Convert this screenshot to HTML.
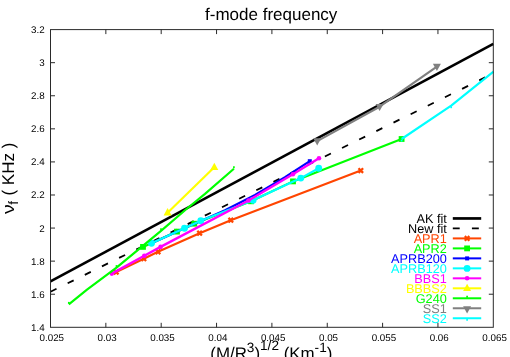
<!DOCTYPE html>
<html><head><meta charset="utf-8"><title>f-mode frequency</title>
<style>
html,body{margin:0;padding:0;background:#fff;}
body{width:510px;height:357px;overflow:hidden;}
svg{display:block;}
text{font-family:"Liberation Sans",sans-serif;text-rendering:geometricPrecision;}
svg{will-change:transform;}
</style></head><body>
<svg width="510" height="357" viewBox="0 0 510 357">
<rect x="0" y="0" width="510" height="357" fill="#fff"/>
<text x="271.2" y="20.1" font-size="17.0" text-anchor="middle" fill="#000">f-mode frequency</text>
<g transform="translate(13.9,213.9) rotate(-90)" fill="#000"><text transform="scale(1.13,1)" x="0" y="0" font-size="17">ν</text><text x="9.2" y="4" font-size="13.6">f</text><text x="13.6" y="0" font-size="17" xml:space="preserve" style="white-space:pre"> ( KHz )</text></g>
<text x="271.3" y="358.8" font-size="16.9" text-anchor="middle" fill="#000">(M/R<tspan font-size="13.6" dy="-7.2">3</tspan><tspan dy="7.2">)</tspan><tspan font-size="13.6" dy="-8.7">1/2</tspan><tspan dy="8.7"> (Km</tspan><tspan font-size="13.6" dy="-7.2">-1</tspan><tspan dy="7.2">)</tspan></text>
<text x="44.6" y="33.10" font-size="9.8" text-anchor="end" fill="#000">3.2</text>
<text x="44.6" y="66.18" font-size="9.8" text-anchor="end" fill="#000">3</text>
<text x="44.6" y="99.26" font-size="9.8" text-anchor="end" fill="#000">2.8</text>
<text x="44.6" y="132.33" font-size="9.8" text-anchor="end" fill="#000">2.6</text>
<text x="44.6" y="165.41" font-size="9.8" text-anchor="end" fill="#000">2.4</text>
<text x="44.6" y="198.49" font-size="9.8" text-anchor="end" fill="#000">2.2</text>
<text x="44.6" y="231.57" font-size="9.8" text-anchor="end" fill="#000">2</text>
<text x="44.6" y="264.64" font-size="9.8" text-anchor="end" fill="#000">1.8</text>
<text x="44.6" y="297.72" font-size="9.8" text-anchor="end" fill="#000">1.6</text>
<text x="44.6" y="330.80" font-size="9.8" text-anchor="end" fill="#000">1.4</text>
<text x="51.80" y="340.5" font-size="9.8" text-anchor="middle" fill="#000">0.025</text>
<text x="107.15" y="340.5" font-size="9.8" text-anchor="middle" fill="#000">0.03</text>
<text x="162.50" y="340.5" font-size="9.8" text-anchor="middle" fill="#000">0.035</text>
<text x="217.85" y="340.5" font-size="9.8" text-anchor="middle" fill="#000">0.04</text>
<text x="273.20" y="340.5" font-size="9.8" text-anchor="middle" fill="#000">0.045</text>
<text x="328.55" y="340.5" font-size="9.8" text-anchor="middle" fill="#000">0.05</text>
<text x="383.90" y="340.5" font-size="9.8" text-anchor="middle" fill="#000">0.055</text>
<text x="439.25" y="340.5" font-size="9.8" text-anchor="middle" fill="#000">0.06</text>
<text x="494.60" y="340.5" font-size="9.8" text-anchor="middle" fill="#000">0.065</text>
<g fill="none" stroke-linejoin="round" stroke-linecap="butt">
<path d="M50.5,281.40 L493.3,43.91" stroke="#000" stroke-width="2.6"/>
<path d="M50.5,291.74 L493.3,73.43" stroke="#000" stroke-width="1.8" stroke-dasharray="6.7 12.42"/>
<path d="M116.2,272.1 L143.8,258.7 L158.0,251.8 L199.6,233.2 L230.8,220.2 L360.8,170.6" stroke="#ff4500" stroke-width="2.15"/>
<path d="M113.9,269.8 L118.5,274.4 M113.9,274.4 L118.5,269.8" stroke="#ff4500" stroke-width="2.3" stroke-linecap="butt"/>
<path d="M141.5,256.4 L146.1,261.0 M141.5,261.0 L146.1,256.4" stroke="#ff4500" stroke-width="2.3" stroke-linecap="butt"/>
<path d="M155.7,249.5 L160.3,254.1 M155.7,254.1 L160.3,249.5" stroke="#ff4500" stroke-width="2.3" stroke-linecap="butt"/>
<path d="M197.3,230.9 L201.9,235.5 M197.3,235.5 L201.9,230.9" stroke="#ff4500" stroke-width="2.3" stroke-linecap="butt"/>
<path d="M228.5,217.9 L233.1,222.5 M228.5,222.5 L233.1,217.9" stroke="#ff4500" stroke-width="2.3" stroke-linecap="butt"/>
<path d="M358.5,168.3 L363.1,172.9 M358.5,172.9 L363.1,168.3" stroke="#ff4500" stroke-width="2.3" stroke-linecap="butt"/>
<path d="M143.0,246.9 L177.0,231.6 L194.3,223.7 L251.0,201.3 L293.0,181.4 L401.6,139.0" stroke="#00ff00" stroke-width="2.15"/>
<rect x="140.1" y="244.0" width="5.8" height="5.8" fill="#00ff00" stroke="none"/>
<rect x="174.1" y="228.7" width="5.8" height="5.8" fill="#00ff00" stroke="none"/>
<rect x="191.4" y="220.8" width="5.8" height="5.8" fill="#00ff00" stroke="none"/>
<rect x="248.1" y="198.4" width="5.8" height="5.8" fill="#00ff00" stroke="none"/>
<rect x="290.1" y="178.5" width="5.8" height="5.8" fill="#00ff00" stroke="none"/>
<rect x="398.7" y="136.1" width="5.8" height="5.8" fill="#00ff00" stroke="none"/>
<path d="M151.5,243.3 L184.5,228.3 L200.7,220.9 L225.0,210.2 L255.0,195.0 L285.0,177.1 L309.8,161.2" stroke="#0000ff" stroke-width="2.15"/>
<rect x="307.8" y="159.2" width="4.0" height="4.0" fill="#0000ff" stroke="none"/>
<path d="M151.5,243.3 L184.5,228.3 L200.8,220.8 L253.1,200.2 L300.8,178.1 L318.7,168.2" stroke="#00ffff" stroke-width="2.15"/>
<circle cx="151.5" cy="243.3" r="3.45" fill="#00ffff" stroke="none"/>
<circle cx="184.5" cy="228.3" r="3.45" fill="#00ffff" stroke="none"/>
<circle cx="200.8" cy="220.8" r="3.45" fill="#00ffff" stroke="none"/>
<circle cx="253.1" cy="200.2" r="3.45" fill="#00ffff" stroke="none"/>
<circle cx="300.8" cy="178.1" r="3.45" fill="#00ffff" stroke="none"/>
<circle cx="318.7" cy="168.2" r="3.45" fill="#00ffff" stroke="none"/>
<path d="M111.8,273.6 L144.3,255.7 L160.6,246.9 L248.5,200.5 L292.9,174.2 L319.0,158.2" stroke="#ff00ff" stroke-width="2.4"/>
<circle cx="111.8" cy="273.6" r="2.3" fill="#ff00ff" stroke="none"/>
<circle cx="144.3" cy="255.7" r="2.3" fill="#ff00ff" stroke="none"/>
<circle cx="160.6" cy="246.9" r="2.3" fill="#ff00ff" stroke="none"/>
<circle cx="248.5" cy="200.5" r="2.3" fill="#ff00ff" stroke="none"/>
<circle cx="292.9" cy="174.2" r="2.3" fill="#ff00ff" stroke="none"/>
<circle cx="319.0" cy="158.2" r="2.3" fill="#ff00ff" stroke="none"/>
<path d="M167.6,212.7 L214.3,167.3" stroke="#ffff00" stroke-width="2.15"/>
<path d="M167.6,208.1 L171.6,215.5 L163.6,215.5 Z" fill="#ffff00" stroke="none"/>
<path d="M214.3,162.7 L218.3,170.1 L210.3,170.1 Z" fill="#ffff00" stroke="none"/>
<path d="M68.8,304.4 L87.0,289.7 L116.5,267.6 L161.0,230.8 L186.2,209.3 L205.0,193.9 L233.9,168.8" stroke="#00ff00" stroke-width="2.15"/>
<path d="M68.8,303.8 L68.8,301.9" stroke="#00ff00" stroke-width="1.7"/>
<path d="M116.5,267.0 L116.5,265.1" stroke="#00ff00" stroke-width="1.7"/>
<path d="M161.0,230.2 L161.0,228.3" stroke="#00ff00" stroke-width="1.7"/>
<path d="M233.9,168.2 L233.9,166.3" stroke="#00ff00" stroke-width="1.7"/>
<path d="M317.2,141.1 L379.6,106.7 L436.9,66.6" stroke="#808080" stroke-width="2.15"/>
<path d="M317.2,145.5 L321.2,138.3 L313.2,138.3 Z" fill="#808080" stroke="none"/>
<path d="M379.6,111.1 L383.6,103.9 L375.6,103.9 Z" fill="#808080" stroke="none"/>
<path d="M436.9,71.0 L440.9,63.8 L432.9,63.8 Z" fill="#808080" stroke="none"/>
<path d="M401.6,139.0 L451.2,105.7 L493.5,71.6" stroke="#00ffff" stroke-width="2.15"/>
<path d="M401.6,139.6 L401.6,141.5" stroke="#00ffff" stroke-width="1.7"/>
<path d="M451.2,106.3 L451.2,108.2" stroke="#00ffff" stroke-width="1.7"/>
</g>
<g fill="none">
<text x="446.8" y="222.95" font-size="12.7" text-anchor="end" fill="#000" stroke="none">AK fit</text>
<path d="M452.8,218.45 L481.2,218.45" stroke="#000" stroke-width="2.7"/>
<text x="446.8" y="232.93" font-size="12.7" text-anchor="end" fill="#000" stroke="none">New fit</text>
<path d="M452.8,228.43 L481.2,228.43" stroke="#000" stroke-width="1.8" stroke-dasharray="6.9 12.22"/>
<text x="446.8" y="242.91" font-size="12.7" text-anchor="end" fill="#ff4500" stroke="none">APR1</text>
<path d="M452.8,238.41 L481.2,238.41" stroke="#ff4500" stroke-width="2"/>
<path d="M464.8,236.1 L469.4,240.7 M464.8,240.7 L469.4,236.1" stroke="#ff4500" stroke-width="2.3" stroke-linecap="butt"/>
<text x="446.8" y="252.89" font-size="12.7" text-anchor="end" fill="#00ff00" stroke="none">APR2</text>
<path d="M452.8,248.39 L481.2,248.39" stroke="#00ff00" stroke-width="2"/>
<rect x="464.2" y="245.5" width="5.8" height="5.8" fill="#00ff00" stroke="none"/>
<text x="446.8" y="262.87" font-size="12.7" text-anchor="end" fill="#0000ff" stroke="none">APRB200</text>
<path d="M452.8,258.37 L481.2,258.37" stroke="#0000ff" stroke-width="2"/>
<rect x="465.1" y="256.4" width="4.0" height="4.0" fill="#0000ff" stroke="none"/>
<text x="446.8" y="272.85" font-size="12.7" text-anchor="end" fill="#00ffff" stroke="none">APRB120</text>
<path d="M452.8,268.35 L481.2,268.35" stroke="#00ffff" stroke-width="2"/>
<circle cx="467.1" cy="268.4" r="3.45" fill="#00ffff" stroke="none"/>
<text x="446.8" y="282.83" font-size="12.7" text-anchor="end" fill="#ff00ff" stroke="none">BBS1</text>
<path d="M452.8,278.33 L481.2,278.33" stroke="#ff00ff" stroke-width="2"/>
<circle cx="467.1" cy="278.3" r="2.3" fill="#ff00ff" stroke="none"/>
<text x="446.8" y="292.81" font-size="12.7" text-anchor="end" fill="#ffff00" stroke="none">BBBS2</text>
<path d="M452.8,288.31 L481.2,288.31" stroke="#ffff00" stroke-width="2"/>
<path d="M467.1,283.7 L471.1,291.1 L463.1,291.1 Z" fill="#ffff00" stroke="none"/>
<text x="446.8" y="302.79" font-size="12.7" text-anchor="end" fill="#00ff00" stroke="none">G240</text>
<path d="M452.8,298.29 L481.2,298.29" stroke="#00ff00" stroke-width="2"/>
<path d="M467.1,297.7 L467.1,295.8" stroke="#00ff00" stroke-width="1.7"/>
<text x="446.8" y="312.77" font-size="12.7" text-anchor="end" fill="#808080" stroke="none">SS1</text>
<path d="M452.8,308.27 L481.2,308.27" stroke="#808080" stroke-width="2"/>
<path d="M467.1,313.5 L471.1,306.3 L463.1,306.3 Z" fill="#808080" stroke="none"/>
<text x="446.8" y="322.75" font-size="12.7" text-anchor="end" fill="#00ffff" stroke="none">SS2</text>
<path d="M452.8,318.25 L481.2,318.25" stroke="#00ffff" stroke-width="2"/>
<path d="M467.1,318.9 L467.1,320.8" stroke="#00ffff" stroke-width="1.7"/>
</g>
<g stroke="#2a2a2a" stroke-width="1" fill="none" shape-rendering="auto">
<rect x="50.5" y="29.6" width="442.8" height="297.70"/>
<path d="M50.5,62.68 h4.5 M493.3,62.68 h-4.5 M50.5,95.76 h4.5 M493.3,95.76 h-4.5 M50.5,128.83 h4.5 M493.3,128.83 h-4.5 M50.5,161.91 h4.5 M493.3,161.91 h-4.5 M50.5,194.99 h4.5 M493.3,194.99 h-4.5 M50.5,228.07 h4.5 M493.3,228.07 h-4.5 M50.5,261.14 h4.5 M493.3,261.14 h-4.5 M50.5,294.22 h4.5 M493.3,294.22 h-4.5 M105.85,327.3 v-4.5 M105.85,29.6 v4.5 M161.20,327.3 v-4.5 M161.20,29.6 v4.5 M216.55,327.3 v-4.5 M216.55,29.6 v4.5 M271.90,327.3 v-4.5 M271.90,29.6 v4.5 M327.25,327.3 v-4.5 M327.25,29.6 v4.5 M382.60,327.3 v-4.5 M382.60,29.6 v4.5 M437.95,327.3 v-4.5 M437.95,29.6 v4.5 "/>
</g>
</svg>
</body></html>
